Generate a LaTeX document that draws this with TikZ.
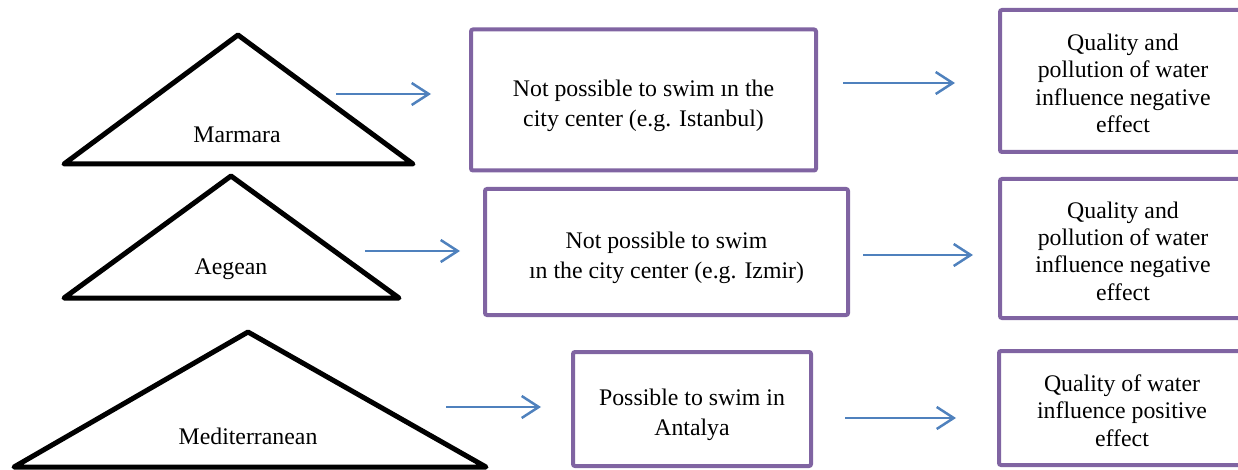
\documentclass[tikz,border=0pt]{standalone}
\usepackage{fontspec}
\setmainfont{Liberation Serif}
\usetikzlibrary{arrows.meta}
\definecolor{boxpurple}{RGB}{128,100,162}
\definecolor{arrowblue}{RGB}{79,129,189}
\tikzset{seabox/.style={
  draw=boxpurple,
  line width=4pt,
  rounded corners=2pt,
  inner sep=0pt,
  },
  swimtext/.style={align=center, inner sep=0pt, yshift=-6pt,
    font=\fontsize{23.8}{29.8}\selectfont},
  effecttext/.style={align=center, inner sep=0pt, yshift=-2.5pt,
    font=\fontsize{23.8}{27.4}\selectfont},
  seatri/.style={draw=black, line width=5pt, line join=round},
  sealabel/.style={font=\fontsize{23.8}{29.5}\selectfont},
  flow/.style={draw=arrowblue, line width=2.5pt,
    -{Straight Barb[length=17pt,width=22pt,line width=2.5pt]}},
}

\begin{document}
\begin{tikzpicture}[x=1pt,y=-1pt]
  \useasboundingbox (0,0) rectangle (1238,470);
  \clip (0,0) rectangle (1238,470);
  % triangles
  \draw[seatri] (64,164) -- (238,35) -- (413,164) -- cycle;
  \draw[seatri] (64,298) -- (231,176) -- (399,298) -- cycle;
  \draw[seatri] (14,467) -- (248,332) -- (486,467) -- cycle;
  \node[sealabel] (marmara) at (237,135) {Marmara};
  \node[sealabel] (aegean)  at (231,269) {Aegean};
  \node[sealabel] (medit)   at (248,436) {Mediterranean};

  % boxes
  \node[seabox, minimum width=345pt, minimum height=141pt,
    label={[swimtext]center:Not possible to swim ın the\\city center (e.g. Istanbul)}]
    (swimA) at (643.5,100) {};
  \node[seabox, minimum width=363pt, minimum height=126pt,
    label={[swimtext]center:Not possible to swim\\ın the city center (e.g. Izmir)}]
    (swimB) at (666.5,252) {};
  \node[seabox, minimum width=238pt, minimum height=114pt,
    label={[swimtext]center:Possible to swim in\\Antalya}]
    (swimC) at (692,409) {};
  \node[seabox, minimum width=246pt, minimum height=142pt,
    label={[effecttext]center:Quality and\\pollution of water\\influence negative\\effect}]
    (effectA) at (1123,81) {};
  \node[seabox, minimum width=246pt, minimum height=139pt,
    label={[effecttext]center:Quality and\\pollution of water\\influence negative\\effect}]
    (effectB) at (1123,248.5) {};
  \node[seabox, minimum width=246pt, minimum height=114pt,
    label={[effecttext]center:Quality of water\\influence positive\\effect}]
    (effectC) at (1122,408) {};

  % arrow ends
  \coordinate (m1) at (336,94);  \coordinate (m2) at (431,94);
  \coordinate (m3) at (843,83);  \coordinate (m4) at (955,83);
  \coordinate (a1) at (365,251); \coordinate (a2) at (460,251);
  \coordinate (a3) at (863,255); \coordinate (a4) at (973,255);
  \coordinate (d1) at (446,407); \coordinate (d2) at (541,407);
  \coordinate (d3) at (845,418); \coordinate (d4) at (956,418);
  \draw[flow] (m1) -- (m2);
  \draw[flow] (m3) -- (m4);
  \draw[flow] (a1) -- (a2);
  \draw[flow] (a3) -- (a4);
  \draw[flow] (d1) -- (d2);
  \draw[flow] (d3) -- (d4);
\end{tikzpicture}
\end{document}
